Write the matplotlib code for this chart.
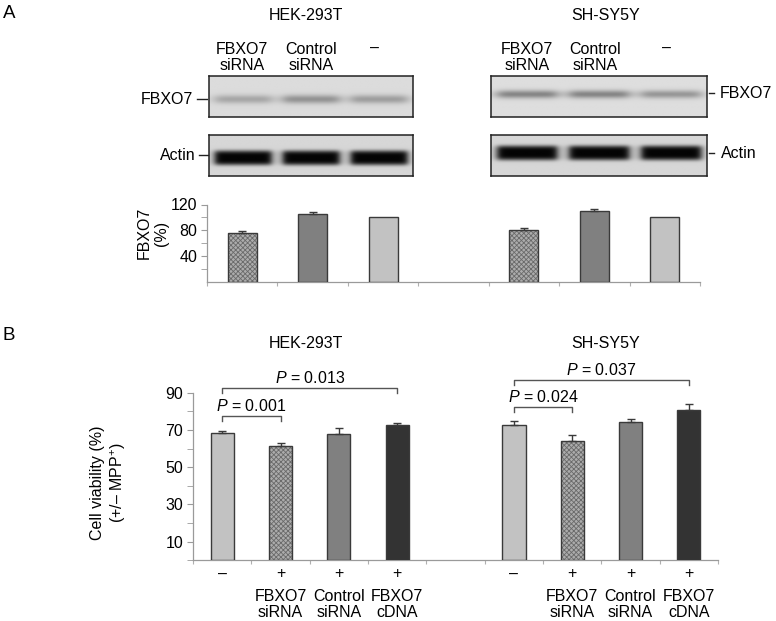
import numpy as np
import matplotlib
matplotlib.use('Agg')
import matplotlib.pyplot as plt

plt.rcParams['font.family'] = ['Liberation Sans', 'DejaVu Sans']
plt.rcParams['mathtext.fontset'] = 'custom'
plt.rcParams['mathtext.it'] = 'Liberation Sans:italic'
plt.rcParams['mathtext.rm'] = 'Liberation Sans'
plt.rcParams['hatch.linewidth'] = 0.6

W, H = 776, 621
FS = 11.5

# ---- data, panel A ----
cells = ['HEK-293T', 'SH-SY5Y']
lane_labels = ['FBXO7\nsiRNA', 'Control\nsiRNA', '–']
hek_fbxo7_pct = [75, 106, 100]
hek_fbxo7_err = [4, 2, 0]
sh_fbxo7_pct = [81, 110, 100]
sh_fbxo7_err = [2, 3, 0]
# band darkness per lane (0 = nothing, 1 = black)
hek_fbxo7_band = [0.24, 0.33, 0.28]
sh_fbxo7_band = [0.40, 0.40, 0.32]
hek_actin_band = [0.98, 0.98, 0.98]
sh_actin_band = [0.98, 0.98, 0.98]

# ---- data, panel B ----
mpp_sign = ['–', '+', '+', '+']
treat_labels = ['', 'FBXO7\nsiRNA', 'Control\nsiRNA', 'FBXO7\ncDNA']
hek_viab = [68.5, 61.3, 67.7, 72.5]
hek_viab_err = [1.0, 1.5, 3.5, 1.2]
sh_viab = [72.9, 64.0, 74.0, 80.8]
sh_viab_err = [2.1, 3.2, 2.0, 3.2]
# (bar i, bar j, p value, bracket level)
hek_p = [(0, 1, '0.001', 77.5), (0, 3, '0.013', 92.4)]
sh_p = [(0, 1, '0.024', 82.2), (0, 3, '0.037', 96.7)]

fig = plt.figure(figsize=(W / 100, H / 100), dpi=100)


def px_axes(x0, y0, x1, y1, **kw):
    return fig.add_axes([x0 / W, 1 - y1 / H, (x1 - x0) / W, (y1 - y0) / H], **kw)


LIGHT = '#c2c2c2'
MID = '#808080'
DARK = '#333333'
HATCH = '#acacac'
EDGE = '#3a3a3a'


def draw_bar(ax, x, h, color, width):
    if color == 'hatch':
        ax.bar(x, h, width, color=HATCH, edgecolor='#6a6a6a', hatch='xxxxxxx', linewidth=0, zorder=2)
        ax.bar(x, h, width, color='none', edgecolor=EDGE, linewidth=1, zorder=3)
    else:
        ax.bar(x, h, width, color=color, edgecolor=EDGE, linewidth=1, zorder=3)


def draw_err(ax, xs, vals, errs):
    for x, v, e in zip(xs, vals, errs):
        if e > 0:
            ax.errorbar(x, v, yerr=[[0], [e]], fmt='none', ecolor=EDGE, elinewidth=1,
                        capsize=3, capthick=1, zorder=4)


def style_axis(ax, n):
    for s in ['top', 'right']:
        ax.spines[s].set_visible(False)
    for s in ['left', 'bottom']:
        ax.spines[s].set_color('#9a9a9a')
        ax.spines[s].set_linewidth(0.9)
    ax.set_xlim(-0.5, n - 0.5)
    ax.set_xticks(np.arange(-0.5, n))
    ax.set_xticklabels([])
    ax.tick_params(axis='x', length=3, color='#b0b0b0')
    ax.tick_params(axis='y', which='both', length=4, color='#9a9a9a', labelsize=FS, pad=3)
    ax.patch.set_alpha(0)


def blot(ax, darkness, yc, sig, bg=0.85, py=2, px=8):
    ny, nx = 80, 400
    yy, xx = np.mgrid[0:ny, 0:nx]
    img = np.full((ny, nx), bg)
    n = len(darkness)
    for i, d in enumerate(darkness):
        cx = (i + 0.5) / n * nx
        hw = 0.42 / n * nx
        prof_x = 1 / (1 + ((xx - cx) / hw) ** px)
        prof_y = np.exp(-0.5 * np.abs((yy - yc * ny) / (sig * ny)) ** py)
        img = img - d * bg * prof_x * prof_y
    ax.imshow(np.clip(img, 0, 1), cmap='gray', vmin=0, vmax=1, aspect='auto',
              extent=[0, 1, 1, 0], interpolation='bilinear')
    ax.set_xticks([])
    ax.set_yticks([])
    for s in ax.spines.values():
        s.set_color('#222222')
        s.set_linewidth(1.1)


# ---- blots ----
blot(px_axes(209, 76, 413, 117), hek_fbxo7_band, 0.56, 0.075, bg=0.86)
blot(px_axes(209, 135, 413, 176), hek_actin_band, 0.55, 0.15, bg=0.84, py=4, px=14)
blot(px_axes(491, 76, 707, 117), sh_fbxo7_band, 0.44, 0.07, bg=0.87)
blot(px_axes(491, 135, 707, 176), sh_actin_band, 0.43, 0.15, bg=0.84, py=4, px=14)

# ---- panel A quantification ----
axa = px_axes(207, 204.5, 700, 281.7)
style_axis(axa, 7)
axa.set_ylim(0, 120)
axa.set_yticks([40, 80, 120])
axa.set_yticks([20, 60, 100], minor=True)
a_colors = ['hatch', MID, LIGHT]
for xs, vals, errs in [([0, 1, 2], hek_fbxo7_pct, hek_fbxo7_err),
                       ([4, 5, 6], sh_fbxo7_pct, sh_fbxo7_err)]:
    for x, v, c in zip(xs, vals, a_colors):
        draw_bar(axa, x, v, c, 0.41)
    draw_err(axa, xs, vals, errs)

# ---- panel B ----
axb = px_axes(193, 392.7, 718, 560.3)
style_axis(axb, 9)
axb.set_ylim(0, 90)
axb.set_yticks([10, 30, 50, 70, 90])
axb.set_yticks([0, 20, 40, 60, 80], minor=True)
b_colors = [LIGHT, 'hatch', MID, DARK]
for xs, vals, errs, pv in [([0, 1, 2, 3], hek_viab, hek_viab_err, hek_p),
                           ([5, 6, 7, 8], sh_viab, sh_viab_err, sh_p)]:
    for x, v, c in zip(xs, vals, b_colors):
        draw_bar(axb, x, v, c, 0.40)
    draw_err(axb, xs, vals, errs)
    for i, j, p, lev in pv:
        x0, x1 = xs[i], xs[j]
        axb.plot([x0, x0, x1, x1], [lev - 2.6, lev, lev, lev - 2.6], color='#555555',
                 lw=1, clip_on=False)
        axb.text((x0 + x1) / 2, lev + 5.3, '$P$ = ' + p, ha='center', va='center',
                 fontsize=FS, clip_on=False)
    for x, sgn, lab in zip(xs, mpp_sign, treat_labels):
        axb.text(x, -7.3, sgn, ha='center', va='center', fontsize=FS, clip_on=False)
        if lab:
            axb.text(x, -23.6, lab, ha='center', va='center', fontsize=FS,
                     linespacing=1.1, clip_on=False)

# ---- text overlay in pixel coordinates ----
ov = fig.add_axes([0, 0, 1, 1], zorder=10)
ov.set_xlim(0, W)
ov.set_ylim(H, 0)
ov.axis('off')
ov.patch.set_alpha(0)

ov.text(3, 13, 'A', fontsize=13.5, va='center', ha='left')
ov.text(3, 336, 'B', fontsize=13.5, va='center', ha='left')
for cx, cell in zip([306, 606], cells):
    ov.text(cx, 15, cell, fontsize=FS, ha='center', va='center')
    ov.text(cx, 343, cell, fontsize=FS, ha='center', va='center')

for xs in [[242, 311, 375], [527, 595, 667]]:
    for x, lab in zip(xs, lane_labels):
        ov.text(x, 57.5 if '\n' in lab else 48, lab, fontsize=FS, ha='center', va='center',
                linespacing=1.15)

# blot marker labels
ov.text(193, 99, 'FBXO7', fontsize=FS, ha='right', va='center')
ov.plot([197, 207], [99, 99], color='#222222', lw=1)
ov.text(196, 155, 'Actin', fontsize=FS, ha='right', va='center')
ov.plot([199, 208], [155, 155], color='#222222', lw=1)
ov.plot([709, 714], [93, 93], color='#222222', lw=1)
ov.text(720, 93, 'FBXO7', fontsize=FS, ha='left', va='center')
ov.plot([709, 714], [153, 153], color='#222222', lw=1)
ov.text(721, 153, 'Actin', fontsize=FS, ha='left', va='center')

ov.text(153, 233, 'FBXO7\n(%)', fontsize=FS, ha='center', va='center', rotation=90,
        linespacing=1.2)
ov.text(109, 483, 'Cell viability (%)\n(+/– MPP$^{+}$)', fontsize=FS, ha='center',
        va='center', rotation=90, linespacing=1.3)

fig.savefig('out.png', dpi=100)
